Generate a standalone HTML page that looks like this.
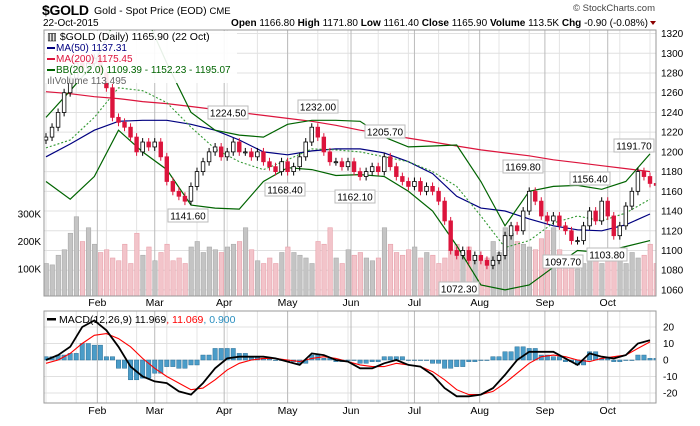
<!DOCTYPE html>
<html><head><meta charset="utf-8">
<style>
body{margin:0;background:#fff;width:700px;height:421px;overflow:hidden;font-family:"Liberation Sans",sans-serif}
svg text{font-family:"Liberation Sans",sans-serif}
</style></head>
<body>
<svg id="c" width="700" height="421" xmlns="http://www.w3.org/2000/svg">
<text x="42" y="15" font-size="14" font-weight="bold" letter-spacing="-0.3">$GOLD</text>
<text x="94" y="14" font-size="10.5">Gold - Spot Price (EOD) <tspan font-size="9.5">CME</tspan></text>
<text x="655" y="11" font-size="9.5" fill="#444" text-anchor="end">© StockCharts.com</text>
<text x="43" y="26" font-size="10">22-Oct-2015</text>
<text x="648" y="26" font-size="10" text-anchor="end"><tspan font-weight="bold">Open</tspan> 1166.80 <tspan font-weight="bold">High</tspan> 1171.80 <tspan font-weight="bold">Low</tspan> 1161.40 <tspan font-weight="bold">Close</tspan> 1165.90 <tspan font-weight="bold">Volume</tspan> 113.5K <tspan font-weight="bold">Chg</tspan> -0.90 (-0.08%)</text>
<path d="M650 21 L656 21 L653 25 Z" fill="#8b0000"/>
<defs><clipPath id="pc"><rect x="44" y="30" width="612" height="266"/></clipPath>
<clipPath id="mc"><rect x="44" y="311" width="612" height="92"/></clipPath></defs>
<g id="grid"></g>
<g id="vol" clip-path="url(#pc)"></g>
<g id="ind" clip-path="url(#pc)"></g>
<g id="candles" clip-path="url(#pc)"></g>
<g id="macd" clip-path="url(#mc)"></g>
<g id="labels"></g>
<rect x="44" y="30" width="612" height="266" fill="none" stroke="#999"/>
<rect x="44" y="311" width="612" height="92" fill="none" stroke="#999"/>
<g>
<rect x="45" y="31" width="192" height="52" fill="#fff" opacity="0.9"/>
<text x="47" y="40" font-size="10.5">▥ $GOLD (Daily) 1165.90 (22 Oct)</text>
<rect x="47" y="47" width="8" height="2" fill="#000080"/><text x="56" y="51" font-size="10" fill="#000080">MA(50) 1137.31</text>
<rect x="47" y="58" width="8" height="2" fill="#dc143c"/><text x="56" y="62" font-size="10" fill="#dc143c">MA(200) 1175.45</text>
<rect x="47" y="69" width="8" height="2" fill="#006400"/><text x="56" y="73" font-size="10" fill="#006400">BB(20,2.0) 1109.39 - 1152.23 - 1195.07</text>
<text x="47" y="84" font-size="10" fill="#666">ılıVolume 113,495</text>
</g>
<g>
<rect x="47" y="318" width="9" height="2.5" fill="#000"/>
<text x="59" y="323" font-size="10.5">MACD(12,26,9) 11.969<tspan fill="#f00">, 11.069</tspan><tspan fill="#2a8fc0">, 0.900</tspan></text>
</g>
</svg>
<script>
const closes=[1215,1225,1240,1260,1275,1290,1285,1290,1295,1280,1265,1235,1230,1225,1215,1200,1210,1205,1210,1195,1170,1160,1155,1150,1165,1180,1190,1200,1205,1195,1200,1210,1200,1200,1195,1200,1190,1185,1180,1190,1180,1185,1195,1210,1225,1215,1200,1190,1190,1185,1190,1180,1175,1180,1185,1180,1195,1185,1175,1170,1165,1170,1160,1165,1160,1150,1130,1100,1095,1100,1090,1095,1090,1085,1090,1095,1115,1125,1120,1140,1160,1150,1135,1130,1135,1125,1120,1110,1110,1125,1140,1130,1150,1135,1115,1125,1145,1160,1180,1175,1168,1166];
const volumes=[120,115,150,170,230,290,200,250,190,160,170,140,130,190,120,230,150,180,130,160,190,130,140,120,180,200,160,180,170,160,180,190,200,250,170,130,120,140,120,160,180,160,150,140,120,200,190,250,140,120,170,150,160,140,130,140,250,190,160,150,170,180,140,160,150,120,140,170,190,160,180,150,130,140,200,160,250,230,200,190,180,170,210,240,250,170,150,120,100,120,160,150,120,140,150,170,120,160,140,150,190,120];
const ma200=[1261,1259,1256,1254,1251,1249,1246,1243,1240,1237,1234,1231,1227,1222,1218,1214,1210,1206,1202,1199,1196,1192,1189,1186,1183,1180];
const ma50=[1195,1208,1222,1231,1232,1232,1228,1222,1212,1200,1197,1201,1203,1203,1199,1190,1178,1155,1143,1140,1132,1125,1121,1120,1126,1137];
const bbMid=[1204,1212,1235,1265,1262,1250,1225,1203,1190,1182,1192,1203,1202,1200,1195,1190,1180,1165,1135,1103,1110,1128,1135,1130,1138,1152];
const bbUpper=[1235,1262,1290,1340,1345,1290,1240,1222,1217,1215,1228,1232,1232,1231,1215,1205,1206,1207,1170,1125,1160,1165,1166,1162,1170,1198];
const bbLower=[1170,1152,1175,1222,1200,1182,1146,1143,1142,1170,1184,1182,1176,1177,1175,1160,1140,1105,1065,1060,1065,1083,1100,1098,1104,1110];
const macdLine=[0,3,8,20,24,18,8,-4,-10,-13,-14,-19,-21,-14,-5,1,2,2,2,1,-1,-3,4,3,0,-1,-5,-5,-2,0,-3,-4,-9,-17,-22,-22,-21,-17,-9,0,5,5,5,1,-3,4,2,1,3,10,12];
const signalLine=[-2,0,4,10,15,16,13,8,1,-5,-10,-14,-18,-17,-12,-6,-2,0,1,1,0,-1,1,2,1,-1,-3,-4,-4,-2,-3,-4,-7,-12,-18,-21,-21,-19,-14,-8,-2,2,3,2,0,-1,1,2,3,7,11];
const priceTicks=[1060,1080,1100,1120,1140,1160,1180,1200,1220,1240,1260,1280,1300,1320];
const volTicks=[100,200,300];
const macdTicks=[-20,-10,0,10,20];
const months=["Feb","Mar","Apr","May","Jun","Jul","Aug","Sep","Oct"];
const monthIdx=[8.5,18,29.5,40,50.5,61,71.8,82.6,93];
const annotations=[["1224.50",228,113],["1232.00",318,107],["1168.40",285,190],["1141.60",188,216],["1162.10",355,197],["1205.70",385,132],["1169.80",523,167],["1072.30",459,289],["1097.70",563,262],["1156.40",590,179],["1103.80",607,255],["1191.70",634,146]];

const NS="http://www.w3.org/2000/svg";
const xi=i=>46+i*6.04;
const yP=p=>73+(1280-p)*0.986;
const yV=v=>296.5-v*0.275;
const yM=m=>360-m*1.65;
function mk(tag,attrs,parent){const e=document.createElementNS(NS,tag);for(const k in attrs)e.setAttribute(k,attrs[k]);document.getElementById(parent).appendChild(e);return e;}
for(let i=0;i<closes.length;i+=5){const l=mk('line',{x1:xi(i),x2:xi(i),y1:30,y2:296,stroke:'#e4e4e4'},'grid');


const l2=mk('line',{x1:xi(i),x2:xi(i),y1:311,y2:403,stroke:'#e4e4e4'},'grid');

}
priceTicks.forEach(p=>{const l=mk('line',{x1:44,x2:656,y1:yP(p),y2:yP(p),stroke:'#e0e0e0'},'grid');


const t=mk('text',{x:661,y:yP(p)+3.5,'font-size':10},'labels');t.textContent=p;

});
volTicks.forEach(v=>{const t=mk('text',{x:41,y:yV(v)+3.5,'font-size':10,'text-anchor':'end'},'labels');t.textContent=v+'K';

});
macdTicks.forEach(m=>{const l=mk('line',{x1:44,x2:656,y1:yM(m),y2:yM(m),stroke:'#e0e0e0'},'grid');


const t=mk('text',{x:663,y:yM(m)+3.5,'font-size':10},'labels');t.textContent=m;

});
months.forEach((m,k)=>{const x=xi(monthIdx[k]);
[[30,296],[311,403]].forEach(r=>{const l=mk('line',{x1:x,x2:x,y1:r[0],y2:r[1],stroke:'#bbb'},'grid');

});
[306,414].forEach(y=>{const t=mk('text',{x:x,y:y,'font-size':10.5,'text-anchor':'middle'},'labels');t.textContent=m;

});});
closes.forEach((c,i)=>{const o=i?closes[i-1]:c-3;const up=c>=o;const v=volumes[i]||130;
const b=mk('rect',{x:xi(i)-2,y:yV(v),width:4.5,height:296.5-yV(v),fill:up?'#c4c4c4':'#f2c4ca',stroke:up?'#aaa':'#e8a0aa','stroke-width':0.6},'vol');


const hi=Math.max(o,c)+4,lo=Math.min(o,c)-4;
const w=mk('line',{x1:xi(i),x2:xi(i),y1:yP(hi),y2:yP(lo),stroke:up?'#000':'#dc143c'},'candles');


const r=mk('rect',{x:xi(i)-1.8,y:yP(Math.max(o,c)),width:3.6,height:Math.max(1,Math.abs(yP(o)-yP(c))),fill:up?'#fff':'#dc143c',stroke:up?'#000':'#dc143c','stroke-width':0.8},'candles');

});
function line(arr,step,yf,attrs,g,name){const d=arr.map((v,k)=>(k?'L':'M')+xi(k*step).toFixed(1)+' '+yf(v).toFixed(1)).join(' ');
const p=mk('path',Object.assign({d:d,fill:'none'},attrs),g);

}
line(ma200,4,yP,{stroke:'#dc143c','stroke-width':1.2},'ind','ma200-line');
line(ma50,4,yP,{stroke:'#000080','stroke-width':1.2},'ind','ma50-line');
line(bbUpper,4,yP,{stroke:'#006400','stroke-width':1.2},'ind','bb-upper-line');
line(bbLower,4,yP,{stroke:'#006400','stroke-width':1.2},'ind','bb-lower-line');
line(bbMid,4,yP,{stroke:'#339933','stroke-width':1.1,'stroke-dasharray':'2 2'},'ind','bb-mid-line');
macdLine.forEach((m,k)=>{const h=m-signalLine[k];for(let j=0;j<2;j++){const x=xi(k*2+j)-2.2;
const b=mk('rect',{x:x,y:Math.min(yM(h),360),width:4.4,height:Math.max(0.5,Math.abs(yM(h)-360)),fill:'#4a9cc8',stroke:'#2a6f96','stroke-width':0.5},'macd');

}});
line(signalLine,2,yM,{stroke:'#f00','stroke-width':1.1},'macd','macd-signal-line');
line(macdLine,2,yM,{stroke:'#000','stroke-width':1.8},'macd','macd-line');
annotations.forEach(a=>{const w=40;
const r=mk('rect',{x:a[1]-w/2,y:a[2]-7,width:w,height:13,fill:'#fff',stroke:'#bbb'},'labels');


const t=mk('text',{x:a[1],y:a[2]+3.5,'font-size':10,'text-anchor':'middle'},'labels');t.textContent=a[0];

});
</script>
</body></html>
